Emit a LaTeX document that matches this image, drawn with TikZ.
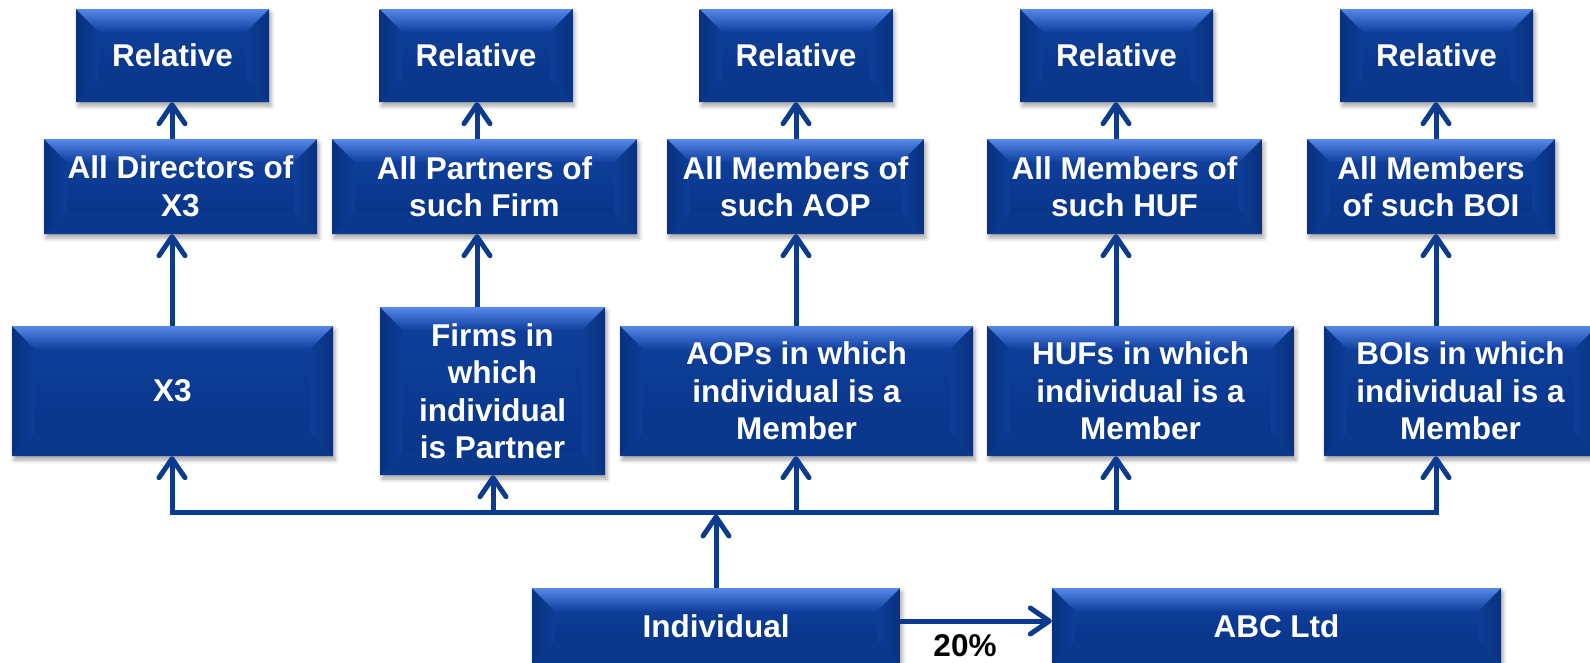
\documentclass[tikz,border=0pt]{standalone}
\usepackage{fontspec}
\setmainfont{Liberation Sans}
\usetikzlibrary{arrows.meta,shadows.blur,calc}

\definecolor{linec}{HTML}{0B3A8E}
\definecolor{bevhi}{HTML}{5688E8}
\definecolor{bevmid}{HTML}{2456BC}
\definecolor{bevlo}{HTML}{11409E}
\definecolor{sidedk}{HTML}{08317F}
\definecolor{boxbase}{HTML}{0B3991}
\definecolor{bottomc}{HTML}{0A388D}
\definecolor{facetop}{HTML}{0E3E99}
\definecolor{facebot}{HTML}{09368A}

\newcommand\bevw{23pt}

\tikzset{
  bevelbox/.style={
    fill=boxbase, draw=none, text=white, align=center, inner sep=0pt,
    font=\fontsize{31.5pt}{37.5pt}\selectfont\bfseries,
    blur shadow={shadow xshift=2pt, shadow yshift=-4pt, shadow blur radius=4pt,
                 shadow opacity=35},
    path picture={
      \coordinate (@a) at (path picture bounding box.north west);
      \coordinate (@b) at (path picture bounding box.north east);
      \coordinate (@c) at (path picture bounding box.south east);
      \coordinate (@d) at (path picture bounding box.south west);
      % front face
      \shade[top color=facetop, bottom color=facebot]
        ([xshift=\bevw,yshift=-\bevw]@a) rectangle ([xshift=-\bevw,yshift=\bevw]@c);
      % left and right facets
      \shade[left color=sidedk, right color=facetop]
        (@a) -- ([xshift=\bevw,yshift=-\bevw]@a) -- ([xshift=\bevw,yshift=\bevw]@d) -- (@d) -- cycle;
      \shade[right color=sidedk, left color=facetop]
        (@b) -- ([xshift=-\bevw,yshift=-\bevw]@b) -- ([xshift=-\bevw,yshift=\bevw]@c) -- (@c) -- cycle;
      % bottom facet
      \fill[bottomc]
        (@d) -- ([xshift=\bevw,yshift=\bevw]@d) -- ([xshift=-\bevw,yshift=\bevw]@c) -- (@c) -- cycle;
      % top facet, lit from above
      \shade[top color=bevhi, middle color=bevmid, bottom color=bevlo]
        (@a) -- (@b) -- ([xshift=-\bevw,yshift=-\bevw]@b) -- ([xshift=\bevw,yshift=-\bevw]@a) -- cycle;
    }
  },
  toprow/.style={bevelbox, minimum width=193pt, minimum height=93pt},
  midrow/.style={bevelbox, minimum height=95pt},
  arr/.style={draw=linec, line width=5pt,
    -{Straight Barb[length=19pt,width=26pt,round]}},
  busline/.style={draw=linec, line width=5pt, line cap=rect},
  pct/.style={font=\fontsize{31.5pt}{37.5pt}\selectfont\bfseries, text=black, inner sep=0pt}
}

\begin{document}
\begin{tikzpicture}[x=1pt,y=-1pt]
\useasboundingbox (0,0) rectangle (1590,662);

% column positions of the vertical connectors
\coordinate (c1) at (172,0);
\coordinate (c2) at (477,0);
\coordinate (c2b) at (493,0);
\coordinate (c3) at (796,0);
\coordinate (c4) at (1116,0);
\coordinate (c5) at (1436,0);
\coordinate (bus) at (716,512);

% top row
\node[toprow] (r1) at (172.5,55.5) {Relative};
\node[toprow] (r2) at (476,55.5) {Relative};
\node[toprow] (r3) at (796,55.5) {Relative};
\node[toprow] (r4) at (1116.5,55.5) {Relative};
\node[toprow] (r5) at (1436.5,55.5) {Relative};

% second row
\node[midrow, minimum width=273pt] (d1) at (180.5,186.5) {All Directors of\\X3};
\node[midrow, minimum width=305pt] (d2) at (484.5,186.5) {All Partners of\\such Firm};
\node[midrow, minimum width=257pt] (d3) at (795.5,186.5) {All Members of\\such AOP};
\node[midrow, minimum width=275pt] (d4) at (1124.5,186.5) {All Members of\\such HUF};
\node[midrow, minimum width=248pt] (d5) at (1431,186.5) {All Members\\of such BOI};

% third row
\node[bevelbox, minimum width=321pt, minimum height=130pt] (x3) at (172.5,391) {X3};
\node[bevelbox, minimum width=225pt, minimum height=168pt] (firms) at (492.5,391)
  {Firms in\\which\\individual\\is Partner};
\node[bevelbox, minimum width=353pt, minimum height=130pt] (aop) at (796.5,391)
  {AOPs in which\\individual is a\\Member};
\node[bevelbox, minimum width=307pt, minimum height=130pt] (huf) at (1140.5,391)
  {HUFs in which\\individual is a\\Member};
\node[bevelbox, minimum width=273pt, minimum height=130pt] (boi) at (1460.5,391)
  {BOIs in which\\individual is a\\Member};

% bottom row
\node[bevelbox, minimum width=368pt, minimum height=76pt] (ind) at (716,626) {Individual};
\node[bevelbox, minimum width=449pt, minimum height=76pt] (abc) at (1276.5,626) {ABC Ltd};

% relatives
\draw[arr] (c1 |- d1.north) -- (c1 |- r1.south);
\draw[arr] (c2 |- d2.north) -- (c2 |- r2.south);
\draw[arr] (c3 |- d3.north) -- (c3 |- r3.south);
\draw[arr] (c4 |- d4.north) -- (c4 |- r4.south);
\draw[arr] (c5 |- d5.north) -- (c5 |- r5.south);

% members of each entity
\draw[arr] (c1 |- x3.north) -- (c1 |- d1.south);
\draw[arr] (c2 |- firms.north) -- (c2 |- d2.south);
\draw[arr] (c3 |- aop.north) -- (c3 |- d3.south);
\draw[arr] (c4 |- huf.north) -- (c4 |- d4.south);
\draw[arr] (c5 |- boi.north) -- (c5 |- d5.south);

% distribution bus
\draw[busline] (c1 |- bus) -- (c5 |- bus);
\draw[arr] (c1 |- bus) -- (c1 |- x3.south);
\draw[arr] (c2b |- bus) -- (c2b |- firms.south);
\draw[arr] (c3 |- bus) -- (c3 |- aop.south);
\draw[arr] (c4 |- bus) -- (c4 |- huf.south);
\draw[arr] (c5 |- bus) -- (c5 |- boi.south);
\draw[arr] (ind.north) -- ([yshift=-2.5pt]bus);

% shareholding
\coordinate (sh) at (0,621);
\draw[arr] (ind.east |- sh) -- (abc.west |- sh);
\node[pct, anchor=base] (p20) at (965,656) {20\%};
\end{tikzpicture}
\end{document}
